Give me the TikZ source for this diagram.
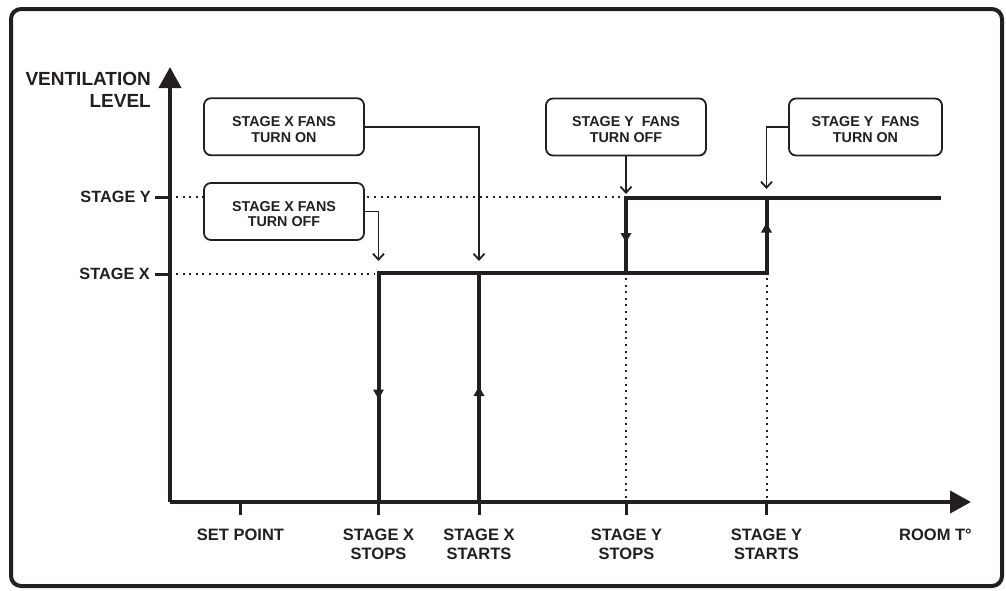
\documentclass[tikz,border=0pt]{standalone}
\usepackage{fontspec}
\setmainfont{Liberation Sans}
\usetikzlibrary{arrows.meta}
\definecolor{ink}{HTML}{231F20}
\tikzset{
  frame/.style={draw=ink, line width=4pt, rounded corners=10pt},
  axis/.style={draw=ink, line width=4pt, -{Triangle[length=21pt,width=22pt]}},
  tick/.style={draw=ink, line width=3pt},
  stepline/.style={draw=ink, line width=4pt, line join=miter},
  dotline/.style={draw=ink, line width=2pt, dash pattern=on 2pt off 4.6pt},
  conn/.style={draw=ink, line width=1.8pt, -{Straight Barb[length=6pt,width=11pt,line width=1.8pt]}},
  fanbox/.style={draw=ink, fill=white, line width=1.8pt, rounded corners=7pt, minimum width=160pt, minimum height=57pt, inner sep=0pt},
  fantext/.style={align=center, text=ink, font=\bfseries\fontsize{14.3}{15.6}\selectfont, inner sep=0pt, yshift=-2.7pt},
  ylab/.style={text=ink, font=\bfseries\fontsize{16.3}{18}\selectfont, inner sep=0pt, anchor=east},
  xlab/.style={text=ink, font=\bfseries\fontsize{16.5}{18.3}\selectfont, inner sep=0pt, anchor=north, align=center},
  midtip/.style={fill=ink}
}
\begin{document}
\begin{tikzpicture}[x=1pt,y=-1pt]
\useasboundingbox (0,0) rectangle (1006,590);
\draw[frame] (11,9) rectangle (1002,586);

% axes
\coordinate (O) at (170,502);
\coordinate (ytop) at (170,67);
\coordinate (xend) at (971,502);
\draw[axis] (O) -- (ytop);
\draw[axis] (O) -- (xend);

% axis titles
\node[text=ink, font=\bfseries\fontsize{19}{21.5}\selectfont, inner sep=0pt, anchor=north east, align=right]
  (vl) at (151,72.5) {VENTILATION\\LEVEL};
\node[xlab] (rt) at (935.5,529) {ROOM T°};

% y ticks and labels
\draw[tick] (155,197) -- (170,197);
\draw[tick] (155,274) -- (170,274);
\node[ylab] (sy) at (151,197) {STAGE Y};
\node[ylab] (sx) at (150,274) {STAGE X};

% x ticks and labels
\foreach \xx in {240.5,378.5,479,626.5,766.5} \draw[tick] (\xx,502) -- (\xx,515);
\node[xlab] (sp) at (240.5,529) {SET POINT};
\node[xlab] (xs) at (378.5,529) {STAGE X\\STOPS};
\node[xlab] (xst) at (479,529) {STAGE X\\STARTS};
\node[xlab] (ys) at (626.5,529) {STAGE Y\\STOPS};
\node[xlab] (yst) at (766.5,529) {STAGE Y\\STARTS};

% dotted guides
\draw[dotline] (176,197) -- (622,197);
\draw[dotline] (176,274) -- (375,274);
\draw[dotline] (626,278) -- (626,500);
\draw[dotline] (766.5,278) -- (766.5,500);

% step curve
\draw[stepline] (378.5,502) -- (378.5,273) -- (626,273) -- (626,198) -- (941,198);
\draw[stepline] (479,502) -- (479,273);
\draw[stepline] (626,273) -- (766.5,273) -- (766.5,198);

% direction marks
\fill[midtip] (373,389.5) -- (384,389.5) -- (378.5,399) -- cycle;
\fill[midtip] (473.5,396) -- (484.5,396) -- (479,386.5) -- cycle;
\fill[midtip] (620.5,233) -- (631.5,233) -- (626,242.5) -- cycle;
\fill[midtip] (761,232.5) -- (772,232.5) -- (766.5,223) -- cycle;

% boxes
\node[fanbox, label={[fantext]center:STAGE X FANS\\TURN ON}] (xon) at (284,126.7) {};
\node[fanbox, label={[fantext]center:STAGE X FANS\\TURN OFF}] (xoff) at (284,211.5) {};
\node[fanbox, label={[fantext]center:STAGE Y\ \ FANS\\TURN OFF}] (yoff) at (626,127) {};
\node[fanbox, minimum width=153pt, label={[fantext]center:STAGE Y\ \ FANS\\TURN ON}] (yon) at (865.5,127) {};

% connectors
\coordinate (xonend) at (479,261);
\coordinate (xoffend) at (378.5,261);
\coordinate (yoffend) at (626,194);
\coordinate (yonend) at (766.5,189);
\draw[conn] (xon.east) -| (xonend);
\draw[conn] (xoff.east) -| (xoffend);
\draw[conn] (yoff.south) -- (yoffend);
\draw[conn] (yon.west) -| (yonend);
\end{tikzpicture}
\end{document}
